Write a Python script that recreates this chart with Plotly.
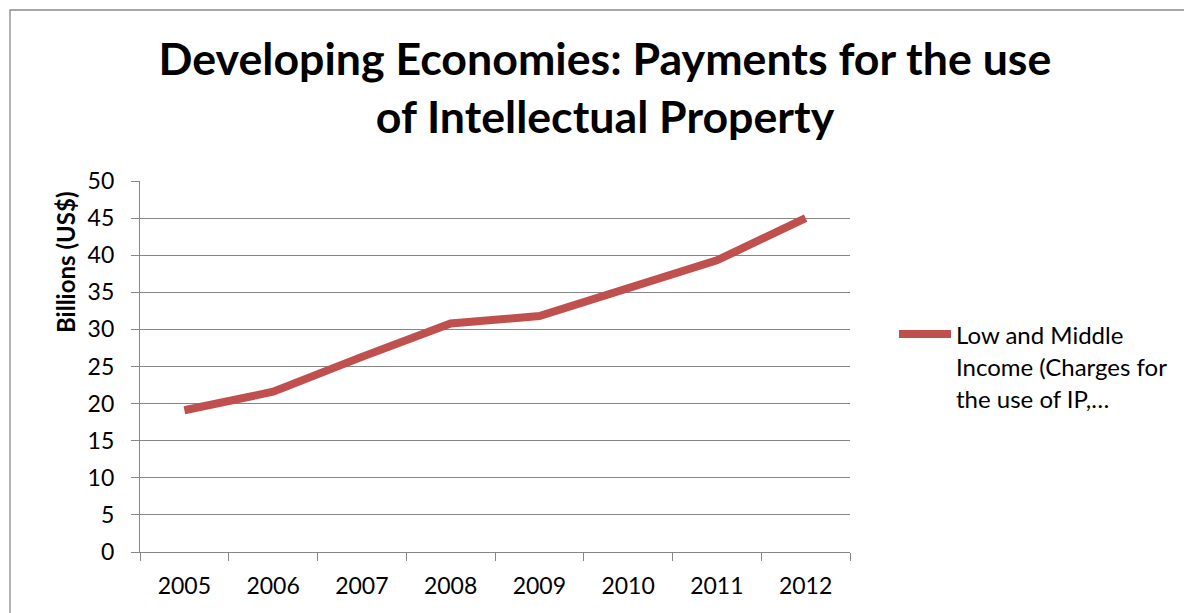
import plotly.graph_objects as go

years = ["2005", "2006", "2007", "2008", "2009", "2010", "2011", "2012"]
values = [19.1, 21.6, 26.3, 30.8, 31.8, 35.5, 39.3, 45.0]
y_ticks = [0, 5, 10, 15, 20, 25, 30, 35, 40, 45, 50]
series_name = "Low and Middle Income (Charges for the use of IP,…"
legend_lines = ["Low and Middle", "Income (Charges for", "the use of IP,…"]
title_lines = ["Developing Economies: Payments for the use", "of Intellectual Property"]

OFF = 8  # page body margin
W, H = 1192 - OFF, 613 - OFF
L, R, T, B = 140 - OFF, 850 - OFF, 181 - OFF, 552 - OFF  # plot area in figure pixels

def px(x):
    return (x - OFF - L) / (R - L)

def py(y):
    return (B - (y - OFF)) / (B - T)

FONT = "Lato"
RED = "#C0504D"
GRID = "#868686"

fig = go.Figure()
fig.add_trace(go.Scatter(
    x=years, y=values, mode="lines", name=series_name,
    line=dict(color=RED, width=8), showlegend=False,
))

fig.update_layout(
    width=W, height=H,
    margin=dict(l=L, r=W - R, t=T, b=H - B),
    paper_bgcolor="white", plot_bgcolor="white",
    font=dict(family=FONT, color="black"),
    title=dict(
        text="<b>" + title_lines[0] + "<br>" + title_lines[1] + "</b>",
        x=(605 - OFF) / W, xanchor="center", y=1 - 67 / H, yanchor="top",
        font=dict(family=FONT, size=44.7, color="black"),
    ),
    xaxis=dict(
        type="category", tickson="boundaries", ticks="outside", ticklen=8,
        tickcolor=GRID, tickwidth=1.3, showgrid=False,
        showline=True, linecolor=GRID, linewidth=1.3,
        tickfont=dict(family=FONT, size=23, color="black"),
        ticklabelstandoff=13, range=[-0.5, 7.5],
    ),
    yaxis=dict(
        range=[0, 50], tickvals=y_ticks, ticks="outside", ticklen=8,
        tickcolor=GRID, tickwidth=1.3, showgrid=True, gridcolor=GRID, gridwidth=1.3,
        showline=True, linecolor=GRID, linewidth=1.3, zeroline=False,
        tickfont=dict(family=FONT, size=23, color="black"),
        ticklabelstandoff=12,
    ),
    showlegend=False,
)

# y axis title (Excel places it near the upper part)
fig.add_annotation(
    text="<b>Billions (US$)</b>", textangle=-90, xref="paper", yref="paper",
    x=px(65), y=py(262), showarrow=False, xanchor="center", yanchor="middle",
    font=dict(family=FONT, size=24, color="black"),
)

# legend
fig.add_shape(type="line", xref="paper", yref="paper",
              x0=px(899), x1=px(951), y0=py(334), y1=py(334),
              line=dict(color=RED, width=8))
for i, t in enumerate(legend_lines):
    fig.add_annotation(
        text=t, xref="paper", yref="paper", x=px(954), y=py(334 + 32 * i),
        showarrow=False, xanchor="left", yanchor="middle",
        font=dict(family=FONT, size=24, color="black"),
    )

# chart border (top and left visible)
fig.add_shape(type="rect", xref="paper", yref="paper",
              x0=px(10), x1=px(1250), y0=py(10), y1=py(700),
              line=dict(color="#8a8a8a", width=1.3), layer="below")

fig.write_html("out.html")
